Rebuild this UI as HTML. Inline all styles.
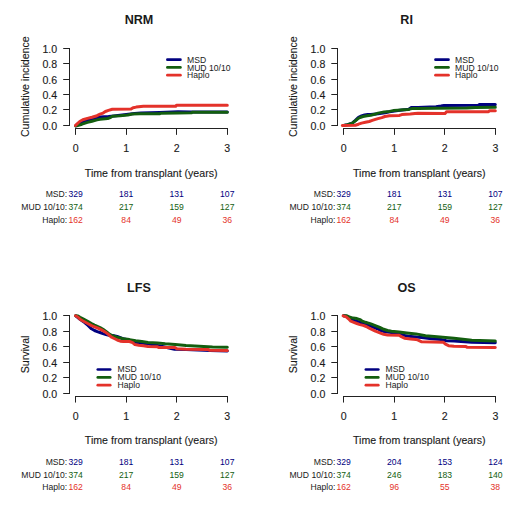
<!DOCTYPE html>
<html><head><meta charset="utf-8"><style>
html,body{margin:0;padding:0;background:#fff;}
body{width:520px;height:505px;overflow:hidden;}
svg{display:block;font-family:"Liberation Sans",sans-serif;font-size:10.6px;fill:#1a1a1a;}
text{stroke-width:0.12px;}
text[font-size],text[font-weight]{stroke-width:0;stroke:none;}
</style></head><body>
<svg width="520" height="505" viewBox="0 0 520 505" stroke="#1a1a1a">
<rect width="520" height="505" fill="#fff" stroke="none"/>
<text x="139" y="23.6" text-anchor="middle" font-weight="bold" font-size="12.6">NRM</text>
<text x="57.2" y="129.9" text-anchor="end">0.0</text>
<text x="57.2" y="114.44" text-anchor="end">0.2</text>
<text x="57.2" y="98.98" text-anchor="end">0.4</text>
<text x="57.2" y="83.52" text-anchor="end">0.6</text>
<text x="57.2" y="68.06" text-anchor="end">0.8</text>
<text x="57.2" y="52.6" text-anchor="end">1.0</text>
<text x="75.6" y="152.2" text-anchor="middle">0</text>
<text x="126.15" y="152.2" text-anchor="middle">1</text>
<text x="176.7" y="152.2" text-anchor="middle">2</text>
<text x="227.25" y="152.2" text-anchor="middle">3</text>
<path d="M69.5 48V126M63.2 125.5H69.5M63.2 109.5H69.5M63.2 94.5H69.5M63.2 79.5H69.5M63.2 63.5H69.5M63.2 48.5H69.5M75 128.5H228M75.5 128.5V134.85M126.5 128.5V134.85M176.5 128.5V134.85M227.5 128.5V134.85" stroke="#222" stroke-width="1.0" fill="none"/>
<text x="151.2" y="176.6" text-anchor="middle">Time from transplant (years)</text>
<text transform="translate(29.3 86.75) rotate(-90)" x="0" y="0" text-anchor="middle">Cumulative incidence</text>
<polyline points="75.8,125.8 82,122.5 87.4,120.5 92,119.3 97,118.1 100,116.9 108.5,116.5 111.5,116.2 120,115.3 134.6,113.5 141,113 159.5,112.6 178,111.8 191,111.9 227.3,112" stroke="#000080" stroke-width="3.0" fill="none" stroke-linejoin="round" stroke-linecap="round"/>
<polyline points="75.8,126 82,124.2 87.4,122.4 92,121.2 97,119.9 100,119.2 107.7,118.5 110.8,117.3 112.3,116.3 120,115.8 127.7,115 132.3,114 140,113.8 159.5,113.8 161,113.2 178,113 191.4,112.8 192.6,112.2 227.3,112.2" stroke="#135e0f" stroke-width="3.0" fill="none" stroke-linejoin="round" stroke-linecap="round"/>
<polyline points="75.5,125.4 78,123 79.7,121.5 82.8,119.8 87.4,118.4 92,117.2 97,115.7 100,114.2 103.1,113.1 105.4,111.5 108.5,110.4 112.3,109.2 131,109.1 133.1,107.7 136.2,107.1 143.4,106.3 175.7,106.3 176.5,105.3 227.3,105.3" stroke="#e4322a" stroke-width="3.0" fill="none" stroke-linejoin="round" stroke-linecap="round"/>
<path d="M167.4 59.7H180.4" stroke="#000080" stroke-width="2.7" stroke-linecap="round"/>
<text x="187" y="62.7" font-size="8.6">MSD</text>
<path d="M167.4 67.4H180.4" stroke="#135e0f" stroke-width="2.7" stroke-linecap="round"/>
<text x="187" y="70.7" font-size="8.6">MUD 10/10</text>
<path d="M167.4 75.2H180.4" stroke="#e4322a" stroke-width="2.7" stroke-linecap="round"/>
<text x="187" y="78.2" font-size="8.6">Haplo</text>
<text x="67.2" y="197.3" font-size="8.6" text-anchor="end">MSD:</text>
<text x="75.6" y="197.3" font-size="8.6" text-anchor="middle" fill="#000080" stroke="#000080">329</text>
<text x="126.15" y="197.3" font-size="8.6" text-anchor="middle" fill="#000080" stroke="#000080">181</text>
<text x="176.7" y="197.3" font-size="8.6" text-anchor="middle" fill="#000080" stroke="#000080">131</text>
<text x="227.25" y="197.3" font-size="8.6" text-anchor="middle" fill="#000080" stroke="#000080">107</text>
<text x="67.2" y="209.95" font-size="8.6" text-anchor="end">MUD 10/10:</text>
<text x="75.6" y="209.95" font-size="8.6" text-anchor="middle" fill="#135e0f" stroke="#135e0f">374</text>
<text x="126.15" y="209.95" font-size="8.6" text-anchor="middle" fill="#135e0f" stroke="#135e0f">217</text>
<text x="176.7" y="209.95" font-size="8.6" text-anchor="middle" fill="#135e0f" stroke="#135e0f">159</text>
<text x="227.25" y="209.95" font-size="8.6" text-anchor="middle" fill="#135e0f" stroke="#135e0f">127</text>
<text x="67.2" y="222.6" font-size="8.6" text-anchor="end">Haplo:</text>
<text x="75.6" y="222.6" font-size="8.6" text-anchor="middle" fill="#e4322a" stroke="#e4322a">162</text>
<text x="126.15" y="222.6" font-size="8.6" text-anchor="middle" fill="#e4322a" stroke="#e4322a">84</text>
<text x="176.7" y="222.6" font-size="8.6" text-anchor="middle" fill="#e4322a" stroke="#e4322a">49</text>
<text x="227.25" y="222.6" font-size="8.6" text-anchor="middle" fill="#e4322a" stroke="#e4322a">36</text>
<text x="406.6" y="23.6" text-anchor="middle" font-weight="bold" font-size="12.6">RI</text>
<text x="325.3" y="129.9" text-anchor="end">0.0</text>
<text x="325.3" y="114.44" text-anchor="end">0.2</text>
<text x="325.3" y="98.98" text-anchor="end">0.4</text>
<text x="325.3" y="83.52" text-anchor="end">0.6</text>
<text x="325.3" y="68.06" text-anchor="end">0.8</text>
<text x="325.3" y="52.6" text-anchor="end">1.0</text>
<text x="343.7" y="152.2" text-anchor="middle">0</text>
<text x="394.25" y="152.2" text-anchor="middle">1</text>
<text x="444.8" y="152.2" text-anchor="middle">2</text>
<text x="495.35" y="152.2" text-anchor="middle">3</text>
<path d="M337.5 48V126M331.3 125.5H337.5M331.3 109.5H337.5M331.3 94.5H337.5M331.3 79.5H337.5M331.3 63.5H337.5M331.3 48.5H337.5M343 128.5H496M343.5 128.5V134.85M394.5 128.5V134.85M444.5 128.5V134.85M495.5 128.5V134.85" stroke="#222" stroke-width="1.0" fill="none"/>
<text x="419.3" y="176.6" text-anchor="middle">Time from transplant (years)</text>
<text transform="translate(297.4 86.75) rotate(-90)" x="0" y="0" text-anchor="middle">Cumulative incidence</text>
<polyline points="343.7,125.4 347.7,124.6 352.3,123.1 355.4,120.3 358.5,117.3 361.5,116 364.6,115 367.7,114.5 370.8,114.6 378,113.8 385,112.8 389.5,111.8 398,110.6 408.8,109.2 411,107.6 418,107.4 436,106.8 441,106 444,105.4 478.5,105.2 479.5,104.4 495.3,104.4" stroke="#000080" stroke-width="3.0" fill="none" stroke-linejoin="round" stroke-linecap="round"/>
<polyline points="343.7,125.4 347.7,124.6 352.3,123.1 355.4,120.8 357.7,118.8 360,117.5 363,116.5 367,115.8 370.8,115.2 374.6,114.3 378,113.1 384.2,111.9 389.5,111.4 393.4,110.6 398,110.2 403.4,109.8 408.8,109.4 411.8,108.6 418,108.5 436,108.2 466.8,107.9 475.4,107.4 495.3,107.3" stroke="#135e0f" stroke-width="3.0" fill="none" stroke-linejoin="round" stroke-linecap="round"/>
<polyline points="342.3,125.4 355.4,125.2 358.5,124.2 361.5,123.1 365.4,122.3 369.2,121.5 372.3,120.4 375.4,119.4 378,118.6 381.8,117.6 384.9,116.5 389.5,115.8 399.5,115.4 401.8,114.6 410.3,114.1 414.9,113.5 418,113.2 445,113.6 446.5,111.8 488.5,111.8 489.5,110.8 495.3,110.8" stroke="#e4322a" stroke-width="3.0" fill="none" stroke-linejoin="round" stroke-linecap="round"/>
<path d="M435.5 59.7H448.5" stroke="#000080" stroke-width="2.7" stroke-linecap="round"/>
<text x="455.1" y="62.7" font-size="8.6">MSD</text>
<path d="M435.5 67.4H448.5" stroke="#135e0f" stroke-width="2.7" stroke-linecap="round"/>
<text x="455.1" y="70.7" font-size="8.6">MUD 10/10</text>
<path d="M435.5 75.2H448.5" stroke="#e4322a" stroke-width="2.7" stroke-linecap="round"/>
<text x="455.1" y="78.2" font-size="8.6">Haplo</text>
<text x="335.3" y="197.3" font-size="8.6" text-anchor="end">MSD:</text>
<text x="343.7" y="197.3" font-size="8.6" text-anchor="middle" fill="#000080" stroke="#000080">329</text>
<text x="394.25" y="197.3" font-size="8.6" text-anchor="middle" fill="#000080" stroke="#000080">181</text>
<text x="444.8" y="197.3" font-size="8.6" text-anchor="middle" fill="#000080" stroke="#000080">131</text>
<text x="495.35" y="197.3" font-size="8.6" text-anchor="middle" fill="#000080" stroke="#000080">107</text>
<text x="335.3" y="209.95" font-size="8.6" text-anchor="end">MUD 10/10:</text>
<text x="343.7" y="209.95" font-size="8.6" text-anchor="middle" fill="#135e0f" stroke="#135e0f">374</text>
<text x="394.25" y="209.95" font-size="8.6" text-anchor="middle" fill="#135e0f" stroke="#135e0f">217</text>
<text x="444.8" y="209.95" font-size="8.6" text-anchor="middle" fill="#135e0f" stroke="#135e0f">159</text>
<text x="495.35" y="209.95" font-size="8.6" text-anchor="middle" fill="#135e0f" stroke="#135e0f">127</text>
<text x="335.3" y="222.6" font-size="8.6" text-anchor="end">Haplo:</text>
<text x="343.7" y="222.6" font-size="8.6" text-anchor="middle" fill="#e4322a" stroke="#e4322a">162</text>
<text x="394.25" y="222.6" font-size="8.6" text-anchor="middle" fill="#e4322a" stroke="#e4322a">84</text>
<text x="444.8" y="222.6" font-size="8.6" text-anchor="middle" fill="#e4322a" stroke="#e4322a">49</text>
<text x="495.35" y="222.6" font-size="8.6" text-anchor="middle" fill="#e4322a" stroke="#e4322a">36</text>
<text x="139" y="291.6" text-anchor="middle" font-weight="bold" font-size="12.6">LFS</text>
<text x="57.2" y="397.6" text-anchor="end">0.0</text>
<text x="57.2" y="382.14" text-anchor="end">0.2</text>
<text x="57.2" y="366.68" text-anchor="end">0.4</text>
<text x="57.2" y="351.22" text-anchor="end">0.6</text>
<text x="57.2" y="335.76" text-anchor="end">0.8</text>
<text x="57.2" y="320.3" text-anchor="end">1.0</text>
<text x="75.6" y="419.9" text-anchor="middle">0</text>
<text x="126.15" y="419.9" text-anchor="middle">1</text>
<text x="176.7" y="419.9" text-anchor="middle">2</text>
<text x="227.25" y="419.9" text-anchor="middle">3</text>
<path d="M69.5 315V394M63.2 393.5H69.5M63.2 377.5H69.5M63.2 362.5H69.5M63.2 346.5H69.5M63.2 331.5H69.5M63.2 315.5H69.5M75 396.5H228M75.5 396.5V402.55M126.5 396.5V402.55M176.5 396.5V402.55M227.5 396.5V402.55" stroke="#222" stroke-width="1.0" fill="none"/>
<text x="151.2" y="444.3" text-anchor="middle">Time from transplant (years)</text>
<text transform="translate(29.3 354.45) rotate(-90)" x="0" y="0" text-anchor="middle">Survival</text>
<polyline points="75.8,315.8 80,319.3 85,322.8 88,325.5 91.5,328.8 94.5,330.5 97.3,331.6 100,332.5 103,333.6 106,334.6 109,335.3 112.6,335.4 117.2,336.5 123.4,338.8 130,340.5 135.7,342.3 140.3,343.1 144.9,343.5 148,343.8 155.2,345.3 159.1,345.7 169,348 174.5,349.2 186,349.6 209.9,350.6 227.3,350.9" stroke="#000080" stroke-width="3.0" fill="none" stroke-linejoin="round" stroke-linecap="round"/>
<polyline points="75.8,315.8 78,316 80,317.2 83,318.8 85.8,320.3 88.5,321.8 91.5,323.5 94.5,325 97.3,326.3 100,327.5 103,329.3 106,331.5 108.9,333.8 112.6,335.8 117.2,337.3 123.4,338.8 129.5,339.6 135.7,340.8 141.8,341.5 148,342.5 157.5,343 165.2,343.8 175.2,344.4 186,345.4 199.3,346.3 212.5,347 227.3,347.3" stroke="#135e0f" stroke-width="3.0" fill="none" stroke-linejoin="round" stroke-linecap="round"/>
<polyline points="75.5,315.8 78,317.2 80,319.3 83,321 85.8,322.5 88.5,324 91.5,325.6 94.5,326.8 97.3,327.9 100,329.2 103,330.7 106,332.6 108.9,334.8 111.1,336.9 114.2,338.5 117.2,340 120.3,341.2 123.4,341.5 129.5,341.5 132.6,342.7 134.9,344.6 138.8,345.2 143.4,345.8 148,346.5 157.5,346.8 159.1,347.6 175.2,347.6 176.8,348.8 186,349.3 208,349.5 209.9,350.3 227.3,350.6" stroke="#e4322a" stroke-width="3.0" fill="none" stroke-linejoin="round" stroke-linecap="round"/>
<path d="M97.8 369.5H110.2" stroke="#000080" stroke-width="2.7" stroke-linecap="round"/>
<text x="117.5" y="372.2" font-size="8.6">MSD</text>
<path d="M97.8 377.4H110.2" stroke="#135e0f" stroke-width="2.7" stroke-linecap="round"/>
<text x="117.5" y="380.1" font-size="8.6">MUD 10/10</text>
<path d="M97.8 385.2H110.2" stroke="#e4322a" stroke-width="2.7" stroke-linecap="round"/>
<text x="117.5" y="387.9" font-size="8.6">Haplo</text>
<text x="67.2" y="465" font-size="8.6" text-anchor="end">MSD:</text>
<text x="75.6" y="465" font-size="8.6" text-anchor="middle" fill="#000080" stroke="#000080">329</text>
<text x="126.15" y="465" font-size="8.6" text-anchor="middle" fill="#000080" stroke="#000080">181</text>
<text x="176.7" y="465" font-size="8.6" text-anchor="middle" fill="#000080" stroke="#000080">131</text>
<text x="227.25" y="465" font-size="8.6" text-anchor="middle" fill="#000080" stroke="#000080">107</text>
<text x="67.2" y="477.65" font-size="8.6" text-anchor="end">MUD 10/10:</text>
<text x="75.6" y="477.65" font-size="8.6" text-anchor="middle" fill="#135e0f" stroke="#135e0f">374</text>
<text x="126.15" y="477.65" font-size="8.6" text-anchor="middle" fill="#135e0f" stroke="#135e0f">217</text>
<text x="176.7" y="477.65" font-size="8.6" text-anchor="middle" fill="#135e0f" stroke="#135e0f">159</text>
<text x="227.25" y="477.65" font-size="8.6" text-anchor="middle" fill="#135e0f" stroke="#135e0f">127</text>
<text x="67.2" y="490.3" font-size="8.6" text-anchor="end">Haplo:</text>
<text x="75.6" y="490.3" font-size="8.6" text-anchor="middle" fill="#e4322a" stroke="#e4322a">162</text>
<text x="126.15" y="490.3" font-size="8.6" text-anchor="middle" fill="#e4322a" stroke="#e4322a">84</text>
<text x="176.7" y="490.3" font-size="8.6" text-anchor="middle" fill="#e4322a" stroke="#e4322a">49</text>
<text x="227.25" y="490.3" font-size="8.6" text-anchor="middle" fill="#e4322a" stroke="#e4322a">36</text>
<text x="406.6" y="291.6" text-anchor="middle" font-weight="bold" font-size="12.6">OS</text>
<text x="325.3" y="397.6" text-anchor="end">0.0</text>
<text x="325.3" y="382.14" text-anchor="end">0.2</text>
<text x="325.3" y="366.68" text-anchor="end">0.4</text>
<text x="325.3" y="351.22" text-anchor="end">0.6</text>
<text x="325.3" y="335.76" text-anchor="end">0.8</text>
<text x="325.3" y="320.3" text-anchor="end">1.0</text>
<text x="343.7" y="419.9" text-anchor="middle">0</text>
<text x="394.25" y="419.9" text-anchor="middle">1</text>
<text x="444.8" y="419.9" text-anchor="middle">2</text>
<text x="495.35" y="419.9" text-anchor="middle">3</text>
<path d="M337.5 315V394M331.3 393.5H337.5M331.3 377.5H337.5M331.3 362.5H337.5M331.3 346.5H337.5M331.3 331.5H337.5M331.3 315.5H337.5M343 396.5H496M343.5 396.5V402.55M394.5 396.5V402.55M444.5 396.5V402.55M495.5 396.5V402.55" stroke="#222" stroke-width="1.0" fill="none"/>
<text x="419.3" y="444.3" text-anchor="middle">Time from transplant (years)</text>
<text transform="translate(297.4 354.45) rotate(-90)" x="0" y="0" text-anchor="middle">Survival</text>
<polyline points="343.7,315.8 347,316.5 351.5,320 355.4,320.8 361.5,322.7 366.2,324.6 370.8,326.2 375.4,328.1 378.5,329.2 380.6,330.5 385.2,331.8 391.4,332.4 399.1,333.5 402.9,335.1 408.3,336.2 416,337 421.7,337.6 429.4,338.4 440.9,339.5 446.3,340.7 454,341.1 471.7,342.2 495.3,342.8" stroke="#000080" stroke-width="3.0" fill="none" stroke-linejoin="round" stroke-linecap="round"/>
<polyline points="343.7,315.8 346.9,315.8 350,317.3 353.1,318.1 356.9,318.6 360,319.6 362.3,321.2 365.4,322.3 368.5,323.1 371.5,324.2 374.6,325.4 378.5,326.9 379.8,327.4 383.7,329.3 387.5,330.5 391.4,331.2 399.1,332 406.8,332.9 416,333.9 425.5,335.7 437.1,336.8 454,338.3 471.7,340.2 495.3,341.1" stroke="#135e0f" stroke-width="3.0" fill="none" stroke-linejoin="round" stroke-linecap="round"/>
<polyline points="343.1,315.8 346.2,316.9 348.5,318.8 350.8,321.2 353.8,322.3 356.9,323.5 360,324.6 363.1,325.4 366.2,326.5 369.2,328.1 372.3,329.6 375.4,331.2 379.8,332.8 383.7,334.3 387.5,334.9 399.1,335.2 401.4,336.6 404.5,338.2 410.6,338.9 416,339.4 418.6,340.3 421.7,341.8 443.2,342.2 445.5,344.2 448.6,345.7 454,346.2 465.5,346.4 467.3,347.3 495.3,347.5" stroke="#e4322a" stroke-width="3.0" fill="none" stroke-linejoin="round" stroke-linecap="round"/>
<path d="M365.9 369.5H378.3" stroke="#000080" stroke-width="2.7" stroke-linecap="round"/>
<text x="385.6" y="372.2" font-size="8.6">MSD</text>
<path d="M365.9 377.4H378.3" stroke="#135e0f" stroke-width="2.7" stroke-linecap="round"/>
<text x="385.6" y="380.1" font-size="8.6">MUD 10/10</text>
<path d="M365.9 385.2H378.3" stroke="#e4322a" stroke-width="2.7" stroke-linecap="round"/>
<text x="385.6" y="387.9" font-size="8.6">Haplo</text>
<text x="335.3" y="465" font-size="8.6" text-anchor="end">MSD:</text>
<text x="343.7" y="465" font-size="8.6" text-anchor="middle" fill="#000080" stroke="#000080">329</text>
<text x="394.25" y="465" font-size="8.6" text-anchor="middle" fill="#000080" stroke="#000080">204</text>
<text x="444.8" y="465" font-size="8.6" text-anchor="middle" fill="#000080" stroke="#000080">153</text>
<text x="495.35" y="465" font-size="8.6" text-anchor="middle" fill="#000080" stroke="#000080">124</text>
<text x="335.3" y="477.65" font-size="8.6" text-anchor="end">MUD 10/10:</text>
<text x="343.7" y="477.65" font-size="8.6" text-anchor="middle" fill="#135e0f" stroke="#135e0f">374</text>
<text x="394.25" y="477.65" font-size="8.6" text-anchor="middle" fill="#135e0f" stroke="#135e0f">246</text>
<text x="444.8" y="477.65" font-size="8.6" text-anchor="middle" fill="#135e0f" stroke="#135e0f">183</text>
<text x="495.35" y="477.65" font-size="8.6" text-anchor="middle" fill="#135e0f" stroke="#135e0f">140</text>
<text x="335.3" y="490.3" font-size="8.6" text-anchor="end">Haplo:</text>
<text x="343.7" y="490.3" font-size="8.6" text-anchor="middle" fill="#e4322a" stroke="#e4322a">162</text>
<text x="394.25" y="490.3" font-size="8.6" text-anchor="middle" fill="#e4322a" stroke="#e4322a">96</text>
<text x="444.8" y="490.3" font-size="8.6" text-anchor="middle" fill="#e4322a" stroke="#e4322a">55</text>
<text x="495.35" y="490.3" font-size="8.6" text-anchor="middle" fill="#e4322a" stroke="#e4322a">38</text>
</svg>
</body></html>
